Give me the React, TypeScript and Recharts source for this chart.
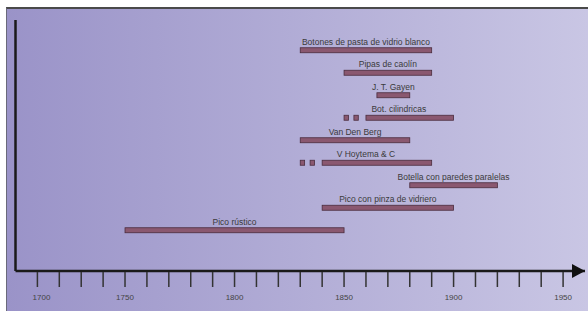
import React from "react"
import { BarChart, Bar, XAxis, YAxis } from "recharts"

// periods of use
const NAMES = [
  "Botones de pasta de vidrio blanco",
  "Pipas de caolín",
  "J. T. Gayen",
  "Bot. cilindricas",
  "Van Den Berg",
  "V Hoytema & C",
  "Botella con paredes paralelas",
  "Pico con pinza de vidriero",
  "Pico rústico",
]
const STARTS = [1830, 1850, 1865, 1860, 1830, 1840, 1880, 1840, 1750]
const ENDS = [1890, 1890, 1880, 1900, 1880, 1890, 1920, 1900, 1850]
// short broken pieces before the main bar
const DASHES: number[][][] = [
  [],
  [],
  [],
  [[1850, 1852], [1854.5, 1856.5]],
  [],
  [[1830, 1832], [1834.5, 1836.5]],
  [],
  [],
  [],
]
const TICKS = [
  1700, 1710, 1720, 1730, 1740, 1750, 1760, 1770, 1780, 1790, 1800, 1810, 1820,
  1830, 1840, 1850, 1860, 1870, 1880, 1890, 1900, 1910, 1920, 1930, 1940, 1950,
]

const data = NAMES.map((name, i) => ({
  name,
  range: [STARTS[i], ENDS[i]],
  dashes: DASHES[i],
}))

const FILL = "#8a5870"
const EDGE = "#4a2c3d"
const FONT = "'Liberation Sans', Arial, sans-serif"

const TimeBar = (props: any) => {
  const { x, y, width, height, payload } = props
  const [s, e] = payload.range
  const k = width / (e - s)
  const first = payload.dashes.length ? payload.dashes[0][0] : s
  const left = x - (s - first) * k
  const cx = (left + x + width) / 2
  return (
    <g>
      <rect x={x} y={y} width={width} height={height} fill={FILL} stroke={EDGE} strokeWidth={0.8} />
      {payload.dashes.map((d: number[], i: number) => (
        <rect
          key={i}
          x={x - (s - d[0]) * k}
          y={y}
          width={(d[1] - d[0]) * k}
          height={height}
          fill={FILL}
          stroke={EDGE}
          strokeWidth={0.8}
        />
      ))}
      <text x={cx} y={y - 3} textAnchor="middle" fontSize={8.5} fontFamily={FONT} fill="#3a3a3a">
        {payload.name}
      </text>
    </g>
  )
}

const YearTick = (props: any) => {
  const { x, y, payload } = props
  const v = payload.value
  return (
    <g>
      {v !== 1700 && <line x1={x} x2={x} y1={y + 1} y2={y + 16} stroke="#333" strokeWidth={1.5} />}
      {v % 50 === 0 && (
        <text
          x={v === 1700 ? x + 26 : x}
          y={y + 29}
          textAnchor="middle"
          fontSize={8}
          fontFamily={FONT}
          fill="#444"
        >
          {v}
        </text>
      )}
    </g>
  )
}

export default function App() {
  return (
    <div style={{ position: "absolute", left: 0, top: 0, width: 588, height: 311, background: "#fff" }}>
      <svg width={0} height={0} style={{ position: "absolute" }}>
        <defs>
          <marker
            id="arrowHead"
            markerUnits="userSpaceOnUse"
            markerWidth={14}
            markerHeight={15}
            refX={13}
            refY={7}
            orient="auto"
          >
            <path d="M0,0 L13,7 L0,14 z" fill="#111" />
          </marker>
        </defs>
      </svg>

      {/* Frame */}
      <div
        style={{
          position: "absolute",
          left: 6,
          top: 7,
          width: 582,
          height: 304,
          boxSizing: "border-box",
          borderTop: "2px solid #4a4a4a",
          borderLeft: "1px solid #6a6a7a",
          background: "linear-gradient(to right, #9a93c8, #c9c6e4)",
        }}
      />

      <div style={{ position: "absolute", left: 0, top: 0 }}>
        <BarChart
          width={588}
          height={311}
          data={data}
          layout="vertical"
          margin={{ top: 20, right: 3, bottom: 0, left: 5.5 }}
          barSize={5}
        >
          <XAxis
            type="number"
            domain={[1700, 1960]}
            ticks={TICKS}
            interval={0}
            height={40}
            tickSize={0}
            tickMargin={0}
            tickLine={false}
            tick={<YearTick />}
            axisLine={{ stroke: "#1a1a1a", strokeWidth: 2.5, markerEnd: "url(#arrowHead)" } as any}
          />
          <YAxis
            type="category"
            dataKey="name"
            width={10}
            tick={false}
            tickLine={false}
            padding={{ top: 18.75, bottom: 29.75 }}
            axisLine={{ stroke: "#1a1a1a", strokeWidth: 2.5 }}
          />
          <Bar dataKey="range" shape={<TimeBar />} isAnimationActive={false} />
        </BarChart>
      </div>
    </div>
  )
}
